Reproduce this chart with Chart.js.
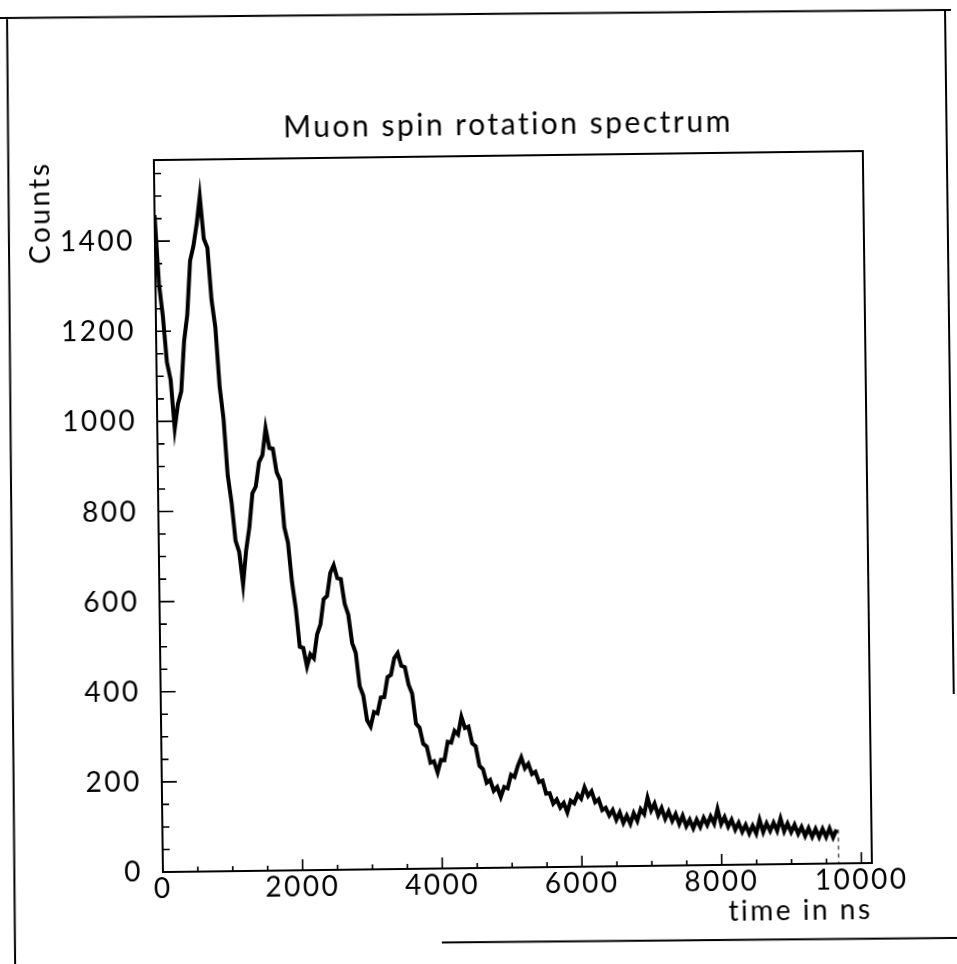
<!DOCTYPE html>
<html>
<head>
<meta charset="utf-8">
<title>Muon spin rotation spectrum</title>
<script src="https://cdn.jsdelivr.net/npm/chart.js@4.4.1/dist/chart.umd.min.js"></script>
<style>
  html, body { margin: 0; padding: 0; background: #fff; }
  #wrap { width: 957px; height: 964px; overflow: hidden; background: #fff; }
  /* the scanned sheet sits slightly tilted */
  #spectrum { display: block; transform: rotate(-0.73deg); transform-origin: 478px 482px; }
</style>
</head>
<body>
<div id="wrap"><canvas id="spectrum" width="957" height="964"></canvas></div>
<script>
// time bins (ns), 50 ns wide
var timeNs = [
  0, 50, 100, 150, 200, 250, 300, 350, 400, 450, 500, 550, 600, 650, 700, 750, 800, 850, 900, 950,
  1000, 1050, 1100, 1150, 1200, 1250, 1300, 1350, 1400, 1450, 1500, 1550, 1600, 1650, 1700, 1750, 1800, 1850, 1900, 1950,
  2000, 2050, 2100, 2150, 2200, 2250, 2300, 2350, 2400, 2450, 2500, 2550, 2600, 2650, 2700, 2750, 2800, 2850, 2900, 2950,
  3000, 3050, 3100, 3150, 3200, 3250, 3300, 3350, 3400, 3450, 3500, 3550, 3600, 3650, 3700, 3750, 3800, 3850, 3900, 3950,
  4000, 4050, 4100, 4150, 4200, 4250, 4300, 4350, 4400, 4450, 4500, 4550, 4600, 4650, 4700, 4750, 4800, 4850, 4900, 4950,
  5000, 5050, 5100, 5150, 5200, 5250, 5300, 5350, 5400, 5450, 5500, 5550, 5600, 5650, 5700, 5750, 5800, 5850, 5900, 5950,
  6000, 6050, 6100, 6150, 6200, 6250, 6300, 6350, 6400, 6450, 6500, 6550, 6600, 6650, 6700, 6750, 6800, 6850, 6900, 6950,
  7000, 7050, 7100, 7150, 7200, 7250, 7300, 7350, 7400, 7450, 7500, 7550, 7600, 7650, 7700, 7750, 7800, 7850, 7900, 7950,
  8000, 8050, 8100, 8150, 8200, 8250, 8300, 8350, 8400, 8450, 8500, 8550, 8600, 8650, 8700, 8750, 8800, 8850, 8900, 8950,
  9000, 9050, 9100, 9150, 9200, 9250, 9300, 9350, 9400, 9450, 9500, 9550, 9600, 9650
];

// counts per bin
var counts = [
  1458, 1306, 1234, 1131, 1092, 984, 1038, 1066, 1178, 1236,
  1356, 1388, 1436, 1498, 1404, 1384, 1268, 1206, 1076, 1004,
  878, 818, 733, 708, 636, 712, 762, 838, 853, 907,
  922, 982, 938, 936, 884, 866, 762, 727, 640, 581,
  496, 493, 452, 479, 470, 523, 545, 601, 608, 659,
  676, 647, 645, 590, 566, 503, 481, 407, 386, 331,
  317, 349, 346, 381, 382, 426, 431, 468, 479, 451,
  448, 409, 389, 322, 313, 277, 271, 235, 238, 213,
  241, 240, 281, 279, 305, 297, 336, 311, 314, 277,
  270, 227, 219, 189, 195, 171, 179, 157, 179, 176,
  206, 201, 226, 244, 220, 230, 207, 212, 189, 192,
  163, 164, 141, 150, 132, 142, 121, 147, 141, 160,
  151, 176, 157, 167, 143, 149, 125, 130, 113, 125,
  103, 119, 96, 112, 94, 117, 100, 126, 115, 151,
  123, 138, 112, 128, 104, 120, 99, 114, 92, 110,
  87, 101, 82, 101, 85, 105, 89, 108, 92, 124,
  91, 106, 85, 100, 78, 93, 73, 88, 69, 86,
  69, 99, 72, 91, 74, 92, 74, 101, 73, 90,
  71, 87, 67, 82, 62, 79, 60, 77, 59, 77,
  59, 78, 58, 75
];

// upper edge of the last filled bin, where the histogram drops back to zero
var lastEdgeNs = 9675;

var xLabelTicks = [0, 2000, 4000, 6000, 8000, 10000];
var xSmallTicks = [0, 500, 1000, 1500, 2000, 2500, 3000, 3500, 4000, 4500, 5000,
  5500, 6000, 6500, 7000, 7500, 8000, 8500, 9000, 9500, 10000];
var yLabelTicks = [0, 200, 400, 600, 800, 1000, 1200, 1400];
var ySmallTicks = [0, 50, 100, 150, 200, 250, 300, 350, 400, 450, 500, 550, 600, 650, 700, 750,
  800, 850, 900, 950, 1000, 1050, 1100, 1150, 1200, 1250, 1300, 1350, 1400, 1450, 1500, 1550];

var ink = '#000';
var labelFont = { family: 'Lato', size: 28 };

var points = timeNs.map(function (t, i) { return { x: t, y: counts[i] }; });
var lastCount = counts[counts.length - 1];
var closingEdge = [{ x: lastEdgeNs, y: lastCount }, { x: lastEdgeNs, y: 0 }];

function plainNumber(v) { return String(v); }

// page border, frame and inward tick marks
var framePlugin = {
  id: 'frame',
  beforeDraw: function (chart) {
    var ctx = chart.ctx;
    ctx.letterSpacing = '2.5px';
    ctx.save();
    ctx.fillStyle = '#fff';
    ctx.fillRect(0, 0, chart.width, chart.height);
    ctx.strokeStyle = ink;
    ctx.lineWidth = 2;
    ctx.beginPath();
    ctx.moveTo(4, 12); ctx.lineTo(957, 16);
    ctx.moveTo(13, 12); ctx.lineTo(9, 964);
    ctx.moveTo(951, 15); ctx.lineTo(951, 700);
    ctx.moveTo(436, 942); ctx.lineTo(957, 944);
    ctx.stroke();
    ctx.restore();
  },
  afterDraw: function (chart) {
    var ctx = chart.ctx, a = chart.chartArea;
    var xs = chart.scales.x, ys = chart.scales.y;
    ctx.save();
    ctx.strokeStyle = ink;
    ctx.lineWidth = 2;
    ctx.strokeRect(a.left, a.top, a.right - a.left, a.bottom - a.top);
    ctx.lineWidth = 1.6;
    ctx.beginPath();
    xSmallTicks.forEach(function (v) {
      var px = xs.getPixelForValue(v);
      var len = xLabelTicks.indexOf(v) >= 0 ? 11 : 5;
      ctx.moveTo(px, a.bottom);
      ctx.lineTo(px, a.bottom - len);
    });
    ySmallTicks.forEach(function (v) {
      var py = ys.getPixelForValue(v);
      var len = yLabelTicks.indexOf(v) >= 0 ? 15 : 7;
      ctx.moveTo(a.left, py);
      ctx.lineTo(a.left + len, py);
    });
    ctx.stroke();
    ctx.restore();
  }
};

new Chart(document.getElementById('spectrum'), {
  type: 'line',
  data: {
    datasets: [{
      data: points,
      borderColor: ink,
      borderWidth: 4,
      pointRadius: 0,
      tension: 0,
      fill: false
    }, {
      data: closingEdge,
      borderColor: ink,
      borderWidth: 1,
      borderDash: [4, 4],
      pointRadius: 0,
      fill: false
    }]
  },
  options: {
    responsive: false,
    animation: false,
    devicePixelRatio: 1,
    layout: { padding: { left: 0, right: 90, top: 0, bottom: 0 } },
    plugins: {
      legend: { display: false },
      tooltip: { enabled: false },
      title: {
        display: true,
        fullSize: false,
        text: 'Muon spin rotation spectrum',
        color: ink,
        font: { family: 'Lato', weight: 'normal', size: 30 },
        padding: { top: 107, bottom: 13 }
      }
    },
    scales: {
      x: {
        type: 'linear',
        min: 0,
        max: 10150,
        grid: { display: false, drawTicks: false },
        border: { display: false },
        afterBuildTicks: function (s) { s.ticks = xLabelTicks.map(function (v) { return { value: v }; }); },
        ticks: { color: ink, font: labelFont, padding: 0, maxRotation: 0, autoSkip: false, callback: plainNumber },
        title: { display: true, text: 'time in ns', align: 'end', color: ink, font: labelFont, padding: { top: 0, bottom: 32 } },
        afterFit: function (s) { s.height = 96; }
      },
      y: {
        type: 'linear',
        min: 0,
        max: 1580,
        grid: { display: false, drawTicks: false },
        border: { display: false },
        afterBuildTicks: function (s) { s.ticks = yLabelTicks.map(function (v) { return { value: v }; }); },
        ticks: { color: ink, font: labelFont, padding: 20, autoSkip: false, callback: plainNumber },
        title: { display: true, text: 'Counts', align: 'end', color: ink, font: labelFont, padding: { top: 27, bottom: 0 } },
        afterFit: function (s) { s.width = 158; }
      }
    }
  },
  plugins: [framePlugin]
});
</script>
</body>
</html>
